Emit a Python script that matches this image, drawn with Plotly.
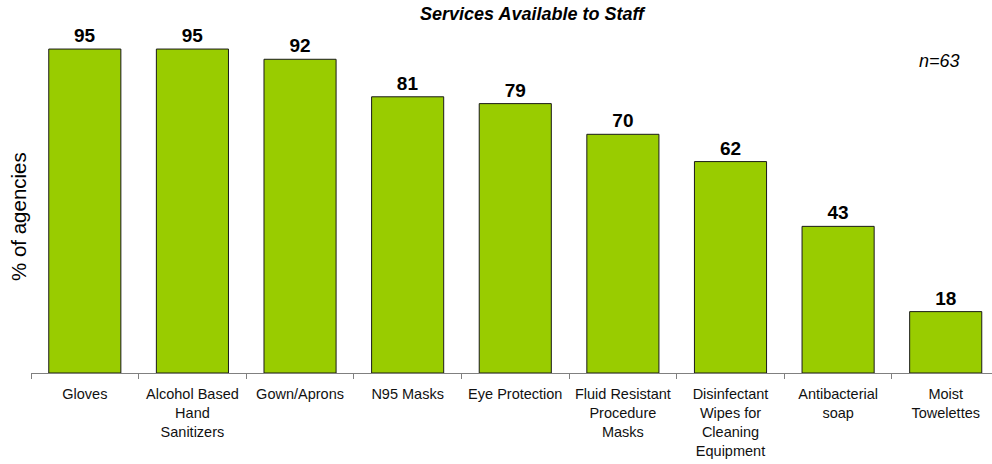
import plotly.graph_objects as go

# Share of agencies offering each item to staff
categories = [
    "Gloves",
    "Alcohol Based<br>Hand<br>Sanitizers",
    "Gown/Aprons",
    "N95 Masks",
    "Eye Protection",
    "Fluid Resistant<br>Procedure<br>Masks",
    "Disinfectant<br>Wipes for<br>Cleaning<br>Equipment",
    "Antibacterial<br>soap",
    "Moist<br>Towelettes",
]
values = [95, 95, 92, 81, 79, 70, 62, 43, 18]
sample_note = "n=63"

FONT = "Liberation Sans, Arial, sans-serif"

fig = go.Figure(
    go.Bar(
        x=categories,
        y=values,
        width=0.67,
        marker=dict(color="#99CC00", line=dict(color="#1a1a1a", width=1)),
        text=[str(v) for v in values],
        textposition="outside",
        textfont=dict(family=FONT, size=19, color="#000000", weight="bold"),
        cliponaxis=False,
    )
)

fig.update_layout(
    width=992,
    height=464,
    margin=dict(l=31, r=0, t=32, b=91),
    plot_bgcolor="white",
    paper_bgcolor="white",
    showlegend=False,
    font=dict(family=FONT, color="#000000"),
    bargap=0.33,
)

fig.update_xaxes(
    range=[-0.5, 8.43],
    showline=True,
    linecolor="#808080",
    linewidth=1,
    ticks="outside",
    tickson="boundaries",
    ticklen=5,
    tickcolor="#808080",
    tickangle=0,
    tickfont=dict(family=FONT, size=14.5, color="#111111"),
    ticklabelstandoff=8,
    showgrid=False,
    zeroline=False,
)

fig.update_yaxes(
    range=[0, 100],
    showticklabels=False,
    showgrid=False,
    zeroline=False,
    showline=False,
    ticks="",
)

fig.add_annotation(
    text="<b><i>Services Available to Staff</i></b>",
    xref="paper", yref="paper",
    x=(533 - 31) / 961, y=1 + 18 / 341,
    showarrow=False,
    font=dict(family=FONT, size=18, color="#000000"),
    xanchor="center", yanchor="middle",
)

fig.add_annotation(
    text="<i>" + sample_note + "</i>",
    xref="paper", yref="paper",
    x=(939 - 31) / 961, y=1 - 29 / 341,
    showarrow=False,
    font=dict(family=FONT, size=18, color="#000000"),
    xanchor="center", yanchor="middle",
)

fig.add_annotation(
    text="% of agencies",
    xref="paper", yref="paper",
    x=-13 / 961, y=(373 - 217) / 341,
    showarrow=False,
    textangle=-90,
    font=dict(family=FONT, size=20.5, color="#000000"),
    xanchor="center", yanchor="middle",
)

fig.write_html("out.html")
